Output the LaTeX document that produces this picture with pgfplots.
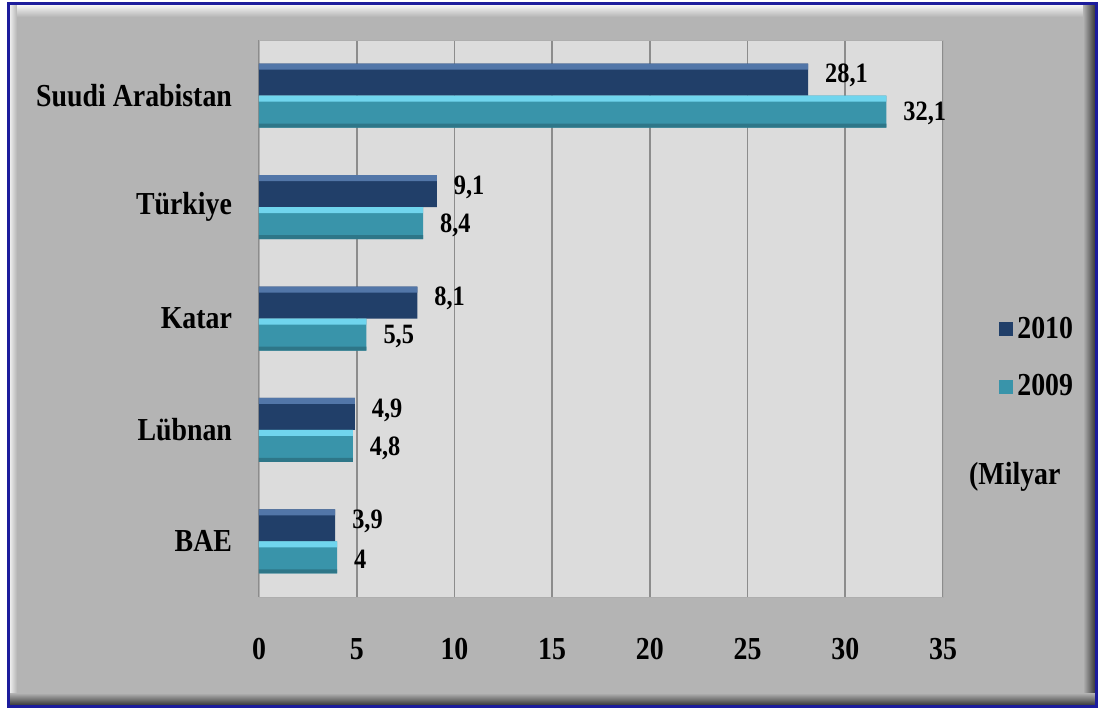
\documentclass[border=0pt]{standalone}
\usepackage{fontspec}
\setmainfont{Liberation Serif}[FakeStretch=0.87]
\usepackage{pgfplots}
\pgfplotsset{compat=1.18}
\definecolor{frameg}{HTML}{B4B4B4}
\definecolor{plotbg}{HTML}{DCDCDC}
\definecolor{gridc}{HTML}{8C8C8C}
\definecolor{bordblue}{HTML}{1C1C9C}
\definecolor{navyA}{HTML}{213F69}
\definecolor{navyB}{HTML}{5276A8}
\definecolor{cyanA}{HTML}{3994AA}
\definecolor{cyanB}{HTML}{70D5EE}
\pgfkeys{/pgf/number format/.cd, assume math mode=true, use comma}
\begin{document}
\begin{tikzpicture}
% frame (1px = 0.5pt, origin at lower-left corner of plot area)
\fill[white] (-129.5pt,-58pt) rectangle (421pt,298.5pt);
\fill[frameg] (-124.5pt,-54pt) rectangle (418pt,296pt);
\shade[top color=gray!8, bottom color=frameg] (-124.5pt,296pt) rectangle (418pt,290pt);
\shade[left color=gray!15, right color=frameg] (-124.5pt,296pt) rectangle (-121pt,-54pt);
\shade[left color=frameg, right color=gray!45!black] (412pt,296pt) rectangle (418pt,-54pt);
\shade[top color=frameg, bottom color=gray!45!black] (-124.5pt,-48pt) rectangle (418pt,-54pt);
\draw[bordblue, line width=1.5pt] (-125.25pt,-54.75pt) rectangle (418.75pt,296.75pt);
\begin{axis}[
  at={(0pt,0pt)}, anchor=south west,
  scale only axis, width=342pt, height=278.5pt,
  xbar, bar width=16pt,
  xmin=0, xmax=35, ymin=0.5, ymax=5.5,
  xtick={0,5,...,35}, ytick={1,2,3,4,5},
  yticklabels={BAE,Lübnan,Katar,Türkiye,Suudi Arabistan},
  major tick length=0pt,
  axis background/.style={fill=plotbg},
  axis line style={gridc!70},
  xmajorgrids, grid style={gridc, line width=0.8pt},
  tick label style={font=\fontsize{16}{19}\selectfont\bfseries},
  xticklabel style={yshift=-17pt},
  yticklabel style={xshift=-10pt},
  nodes near coords style={font=\fontsize{14}{16}\selectfont\bfseries, anchor=west, xshift=5pt},
  legend style={at={(1.073,0.429)}, anchor=west, draw=none, fill=none,
    font=\fontsize{16}{19}\selectfont\bfseries, row sep=12.5pt,
    legend cell align=left},
  legend image code/.code={\fill[#1,draw=none] (0pt,-3.5pt) rectangle (7pt,3.5pt);},
  clip=false,
]
\addplot[draw=none, fill=navyA, bar shift=8pt, nodes near coords,
  nodes near coords style={yshift=2pt}]
  coordinates {(3.9,1) (4.9,2) (8.1,3) (9.1,4) (28.1,5)};
\addlegendentry{2010}
\addplot[draw=none, fill=cyanA, bar shift=-8pt, nodes near coords,
  nodes near coords style={yshift=-1pt}]
  coordinates {(4,1) (4.8,2) (5.5,3) (8.4,4) (32.1,5)};
\addlegendentry{2009}
% bevel highlights on top edge of bars
\addplot[forget plot, draw=none, fill=navyB, bar width=3pt, bar shift=14.5pt]
  coordinates {(3.9,1) (4.9,2) (8.1,3) (9.1,4) (28.1,5)};
\addplot[forget plot, draw=none, fill=cyanB, bar width=3pt, bar shift=-1.5pt]
  coordinates {(4,1) (4.8,2) (5.5,3) (8.4,4) (32.1,5)};
\addplot[forget plot, draw=none, fill=cyanA!80!black, bar width=2pt, bar shift=-15pt]
  coordinates {(4,1) (4.8,2) (5.5,3) (8.4,4) (32.1,5)};
\node[font=\fontsize{16}{19}\selectfont\bfseries] at (rel axis cs:1.105,0.215) {(Milyar};
\end{axis}
\end{tikzpicture}
\end{document}
